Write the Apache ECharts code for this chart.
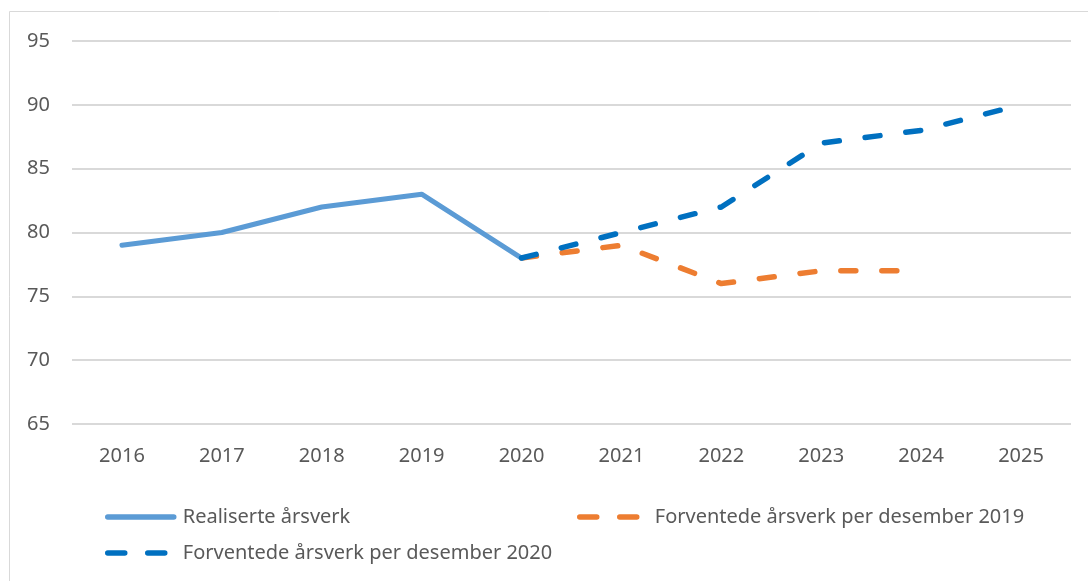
<!DOCTYPE html>
<html lang="no">
<head>
<meta charset="UTF-8">
<title>Årsverk</title>
<script src="https://cdn.jsdelivr.net/npm/echarts@6/dist/echarts.min.js"></script>
<style>
  html, body { margin: 0; padding: 0; background: #fff; }
  #main { width: 1088px; height: 581px; }
</style>
</head>
<body>
<div id="main"></div>
<script>
// data
var years = ['2016', '2017', '2018', '2019', '2020', '2021', '2022', '2023', '2024', '2025'];
var realiserte = [79, 80, 82, 83, 78, null, null, null, null, null];
var forventet2019 = [null, null, null, null, 78, 79, 76, 77, 77, null];
var forventet2020 = [null, null, null, null, 78, 80, 82, 87, 88, 90];
var names = ['Realiserte årsverk', 'Forventede årsverk per desember 2019', 'Forventede årsverk per desember 2020'];
var colors = ['#5b9bd5', '#ed7d31', '#0070c0'];

var font = 'Noto Sans';
var txt = '#595959';
var dash = [15, 26];

var chart = echarts.init(document.getElementById('main'));

// en legende per serie, plassert som i originalen
function legendAt(i, left, top) {
    return {
        data: [names[i]],
        left: left,
        top: top,
        itemWidth: 66,
        itemHeight: 14,
        itemGap: 0,
        itemStyle: { opacity: 0 },
        lineStyle: { color: colors[i], width: 5.5, type: i === 0 ? 'solid' : [17, 23], cap: 'round' },
        textStyle: { color: txt, fontSize: 20, fontFamily: font, padding: [0, 0, 0, 4] }
    };
}

chart.setOption({
    animation: false,
    graphic: [{
        type: 'rect',
        shape: { x: 9.5, y: 11.5, width: 1100, height: 600 },
        style: { fill: 'none', stroke: '#d9d9d9', lineWidth: 1 },
        silent: true
    }],
    grid: { left: 72, right: 17, top: 41, bottom: 157, containLabel: false },
    legend: [
        legendAt(0, 100, 502),
        legendAt(1, 572, 502),
        legendAt(2, 100, 538)
    ],
    xAxis: {
        type: 'category',
        data: years,
        boundaryGap: true,
        axisLine: { show: false },
        axisTick: { show: false },
        axisLabel: { color: txt, fontSize: 20, fontFamily: font, margin: 22 }
    },
    yAxis: {
        type: 'value',
        min: 65,
        max: 95,
        interval: 5,
        axisLine: { show: false },
        axisTick: { show: false },
        axisLabel: { color: txt, fontSize: 20, fontFamily: font, margin: 22 },
        splitLine: { lineStyle: { color: '#d9d9d9', width: 2 } }
    },
    series: [{
        name: names[0],
        type: 'line',
        data: realiserte,
        symbol: 'none',
        z: 3,
        lineStyle: { color: colors[0], width: 5, cap: 'round', join: 'round' },
        itemStyle: { color: colors[0] }
    }, {
        name: names[1],
        type: 'line',
        data: forventet2019,
        symbol: 'none',
        z: 2,
        lineStyle: { color: colors[1], width: 5.5, type: dash, cap: 'round', join: 'round' },
        itemStyle: { color: colors[1] }
    }, {
        name: names[2],
        type: 'line',
        data: forventet2020,
        symbol: 'none',
        z: 4,
        lineStyle: { color: colors[2], width: 5.5, type: dash, cap: 'round', join: 'round' },
        itemStyle: { color: colors[2] }
    }]
});

window.addEventListener('resize', function () { chart.resize(); });
</script>
</body>
</html>
